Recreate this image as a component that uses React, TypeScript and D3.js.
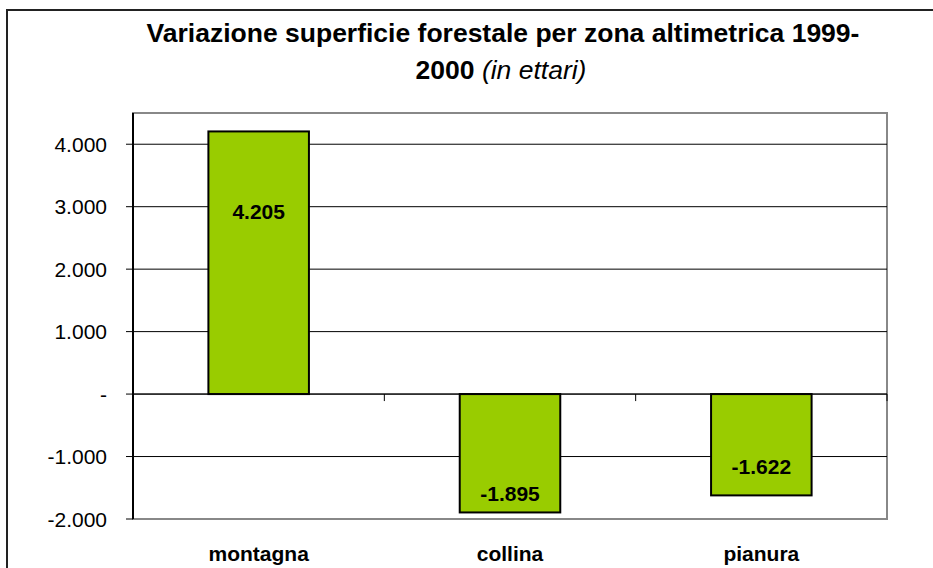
import React from "react";
import * as d3 from "d3";

const categories = ["montagna", "collina", "pianura"];
const values = [4205, -1895, -1622];
// vertical position (in data units) where each value label sits
const labelAt = [2930, -1590, -1156];
const yTicks = [-2000, -1000, 0, 1000, 2000, 3000, 4000];
const titleLine1 = "Variazione superficie forestale per zona altimetrica 1999-";
const titleLine2Bold = "2000 ";
const titleLine2Italic = "(in ettari)";

const W = 933;
const H = 568;
const plot = { left: 133, right: 887, top: 113, bottom: 519 };

const locale = d3.formatLocale({
  thousands: ".",
  decimal: ",",
  grouping: [3],
  currency: ["€", ""],
  minus: "-",
});
const fmt = locale.format(",d");
const tickFmt = (v: number) => (v === 0 ? "-" : fmt(v));

export default function App() {
  const x = d3
    .scaleBand<string>()
    .domain(categories)
    .range([plot.left, plot.right])
    .paddingInner(0.6)
    .paddingOuter(0.3);
  const y = d3.scaleLinear().domain([-2000, 4500]).range([plot.bottom, plot.top]);
  const step = x.step();
  const font = "Arial, 'Liberation Sans', sans-serif";
  const y0 = y(0);
  const boundaries = categories.map((_, i) => plot.left + step * (i + 1));

  return (
    <svg
      width={W}
      height={H}
      style={{ position: "absolute", left: 0, top: 0, background: "#fff" }}
      fontFamily={font}
    >
      <rect x={0} y={0} width={W} height={H} fill="#fff" />
      {/* outer chart border */}
      <rect x={7} y={10} width={W + 20} height={H + 20} fill="none" stroke="#222" strokeWidth={2} />

      {/* title */}
      <text x={503} y={42} textAnchor="middle" fontSize={26.5} fontWeight="bold" fill="#000">
        {titleLine1}
      </text>
      <text x={501} y={79} textAnchor="middle" fontSize={26.5} fill="#000">
        <tspan fontWeight="bold">{titleLine2Bold}</tspan>
        <tspan fontStyle="italic">{titleLine2Italic}</tspan>
      </text>

      {/* plot area border */}
      <rect
        x={plot.left}
        y={plot.top}
        width={plot.right - plot.left}
        height={plot.bottom - plot.top}
        fill="#fff"
        stroke="#888"
        strokeWidth={2}
      />

      {/* gridlines */}
      {yTicks
        .filter((t) => t !== -2000)
        .map((t) => (
          <line key={t} x1={plot.left} x2={plot.right} y1={y(t)} y2={y(t)} stroke="#000" strokeWidth={1} />
        ))}

      {/* bars */}
      {values.map((v, i) => {
        const bx = x(categories[i])!;
        const top = Math.min(y(v), y0);
        const h = Math.abs(y(v) - y0);
        return (
          <rect
            key={categories[i]}
            x={bx}
            y={top}
            width={x.bandwidth()}
            height={h}
            fill="#99CC00"
            stroke="#000"
            strokeWidth={2}
          />
        );
      })}

      {/* category axis (zero line) with ticks */}
      <line x1={plot.left} x2={plot.right} y1={y0} y2={y0} stroke="#000" strokeWidth={1} />
      {boundaries.map((bx, i) => (
        <line key={i} x1={bx} x2={bx} y1={y0} y2={y0 + 7} stroke="#000" strokeWidth={1} />
      ))}

      {/* value axis */}
      <line x1={plot.left} x2={plot.left} y1={plot.top} y2={plot.bottom} stroke="#000" strokeWidth={2} />
      {yTicks.map((t) => (
        <g key={t}>
          <line x1={plot.left - 7} x2={plot.left} y1={y(t)} y2={y(t)} stroke="#000" strokeWidth={1} />
          <text
            x={107}
            y={y(t)}
            dy="0.36em"
            textAnchor="end"
            fontSize={21}
            fill="#000"
          >
            {tickFmt(t)}
          </text>
        </g>
      ))}

      {/* data labels */}
      {values.map((v, i) => (
        <text
          key={i}
          x={x(categories[i])! + x.bandwidth() / 2}
          y={y(labelAt[i])}
          dy="0.36em"
          textAnchor="middle"
          fontSize={21}
          fontWeight="bold"
          fill="#000"
        >
          {fmt(v)}
        </text>
      ))}

      {/* category labels */}
      {categories.map((c) => (
        <text
          key={c}
          x={x(c)! + x.bandwidth() / 2}
          y={553}
          dy="0.36em"
          textAnchor="middle"
          fontSize={21}
          fontWeight="bold"
          fill="#000"
        >
          {c}
        </text>
      ))}
    </svg>
  );
}
